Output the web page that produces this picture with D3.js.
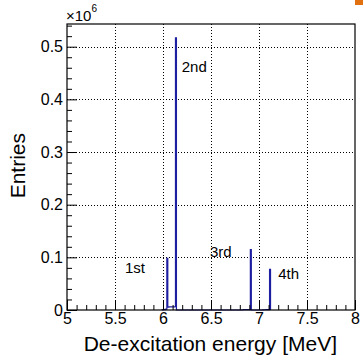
<html>
<head>
    <script src="https://d3js.org/d3.v7.min.js" charset="utf-8"></script>
</head>
<body style="margin:0">
    <script type="text/javascript">
        // Histogram bins (lower edge, MeV) with non-zero content; bin width 0.01 MeV
        const binWidth = 0.01;
        const binEdges = [5.99, 6.00, 6.01, 6.02, 6.03, 6.04, 6.05, 6.06, 6.07, 6.08, 6.09, 6.10, 6.11, 6.12, 6.13,
                          6.83, 6.84, 6.85, 6.86, 6.87, 6.88, 6.89, 6.90, 6.91,
                          7.04, 7.05, 7.06, 7.07, 7.08, 7.09, 7.10, 7.11];
        const binCounts = [300, 600, 900, 1300, 1800, 98000, 5600, 5800, 5900, 6000, 6000, 6100, 6100, 6200, 517000,
                           500, 600, 600, 700, 700, 800, 800, 900, 114500,
                           400, 500, 500, 600, 600, 700, 700, 77000];

        const xTicks = [5, 5.5, 6, 6.5, 7, 7.5, 8];
        const yTicks = [0, 0.1e6, 0.2e6, 0.3e6, 0.4e6, 0.5e6];

        const peakNames = ["1st", "2nd", "3rd", "4th"];
        const peakEnergy = [5.604, 6.195, 6.49, 7.20];   // label anchor (left edge)
        const peakLevel = [0.0703e6, 0.452e6, 0.1006e6, 0.0589e6]; // label baseline

        var width = 364;
        var height = 361;
        var margin = { top: 24, right: 9, bottom: 51, left: 67 };
        const fontFam = "'Liberation Sans', Arial, Helvetica, sans-serif";

        const svg = d3.select("body").append("svg")
            .attr("width", width)
            .attr("height", height)
            .style("font-family", fontFam)
            .style("background", "white");

        const x = d3.scaleLinear().domain([5, 8]).range([margin.left, width - margin.right]);
        const y = d3.scaleLinear().domain([0, 0.5431e6]).range([height - margin.bottom, margin.top]);

        const xMinor = d3.range(50, 81).map(d => d / 10).filter(d => !xTicks.includes(d));
        const yMinor = d3.range(0, 28).map(d => d * 0.02e6).filter(d => d % 0.1e6 !== 0 && d <= y.domain()[1]);

        // grid
        svg.append("g").selectAll("line").data(xTicks.slice(1, -1)).join("line")
            .attr("x1", d => Math.round(x(d)) + 0.5).attr("x2", d => Math.round(x(d)) + 0.5)
            .attr("y1", y.range()[0]).attr("y2", y.range()[1])
            .attr("stroke", "#000").attr("stroke-dasharray", "1,2");
        svg.append("g").selectAll("line").data(yTicks.slice(1)).join("line")
            .attr("x1", x.range()[0]).attr("x2", x.range()[1])
            .attr("y1", d => Math.round(y(d)) + 0.5).attr("y2", d => Math.round(y(d)) + 0.5)
            .attr("stroke", "#000").attr("stroke-dasharray", "1,2");

        // histogram as step line
        const pts = [];
        binEdges.forEach((e, i) => {
            const prevEnd = i > 0 ? binEdges[i - 1] + binWidth : null;
            if (prevEnd === null || Math.abs(prevEnd - e) > 1e-6) {
                if (prevEnd !== null) pts.push([prevEnd, 0]);
                pts.push([e, 0]);
            }
            pts.push([e, binCounts[i]]);
        });
        pts.push([binEdges[binEdges.length - 1] + binWidth, 0]);

        const line = d3.line()
            .x(d => x(d[0]))
            .y(d => y(d[1]))
            .curve(d3.curveStepAfter);

        svg.append("path")
            .datum(pts)
            .attr("fill", "none")
            .attr("stroke", "#1e1ea0")
            .attr("stroke-width", 1.2)
            .attr("d", line);

        // axes (ticks point inward, ROOT style)
        const fmtY = d => d === 0 ? "0" : d3.format(".1f")(d / 1e6);

        svg.append("g")
            .attr("transform", `translate(${margin.left},0)`)
            .call(d3.axisLeft(y).tickValues(yTicks).tickSizeInner(-10).tickSizeOuter(0).tickPadding(4).tickFormat(fmtY));
        svg.append("g")
            .attr("transform", `translate(${margin.left},0)`)
            .call(d3.axisLeft(y).tickValues(yMinor).tickSizeInner(-5).tickSizeOuter(0).tickFormat(""));

        svg.append("g")
            .attr("transform", `translate(0,${height - margin.bottom})`)
            .call(d3.axisBottom(x).tickValues(xTicks).tickSizeInner(-10).tickSizeOuter(0).tickPadding(3).tickFormat(d3.format("~g")));
        svg.append("g")
            .attr("transform", `translate(0,${height - margin.bottom})`)
            .call(d3.axisBottom(x).tickValues(xMinor).tickSizeInner(-5).tickSizeOuter(0).tickFormat(""));

        svg.selectAll(".domain").remove();
        svg.selectAll(".tick line").attr("stroke", "#000");
        svg.selectAll(".tick text").attr("font-size", 16).attr("fill", "#000").attr("font-family", fontFam);

        // frame
        svg.append("rect")
            .attr("x", margin.left).attr("y", margin.top)
            .attr("width", width - margin.left - margin.right)
            .attr("height", height - margin.top - margin.bottom)
            .attr("fill", "none").attr("stroke", "#000").attr("stroke-width", 1.2);

        // exponent
        const ex = svg.append("text").attr("x", margin.left - 1).attr("y", 21).attr("font-size", 15);
        ex.append("tspan").text("\u00d710");
        ex.append("tspan").attr("font-size", 10).attr("dy", -9).text("6");

        // peak labels
        svg.append("g").selectAll("text").data(peakNames).join("text")
            .attr("x", (d, i) => x(peakEnergy[i]))
            .attr("y", (d, i) => y(peakLevel[i]))
            .attr("font-size", 15)
            .text(d => d);

        // axis titles
        svg.append("text")
            .attr("x", 337).attr("y", 351)
            .attr("text-anchor", "end")
            .attr("font-size", 21)
            .text("De-excitation energy [MeV]");

        svg.append("text")
            .attr("transform", `translate(25,133) rotate(-90)`)
            .attr("text-anchor", "end")
            .attr("font-size", 21)
            .text("Entries");

        // small orange marker in the top right corner
        svg.append("rect")
            .attr("x", 355).attr("y", 0).attr("width", 8).attr("height", 5)
            .attr("fill", "#e07010");
    </script>
</body>
</html>
